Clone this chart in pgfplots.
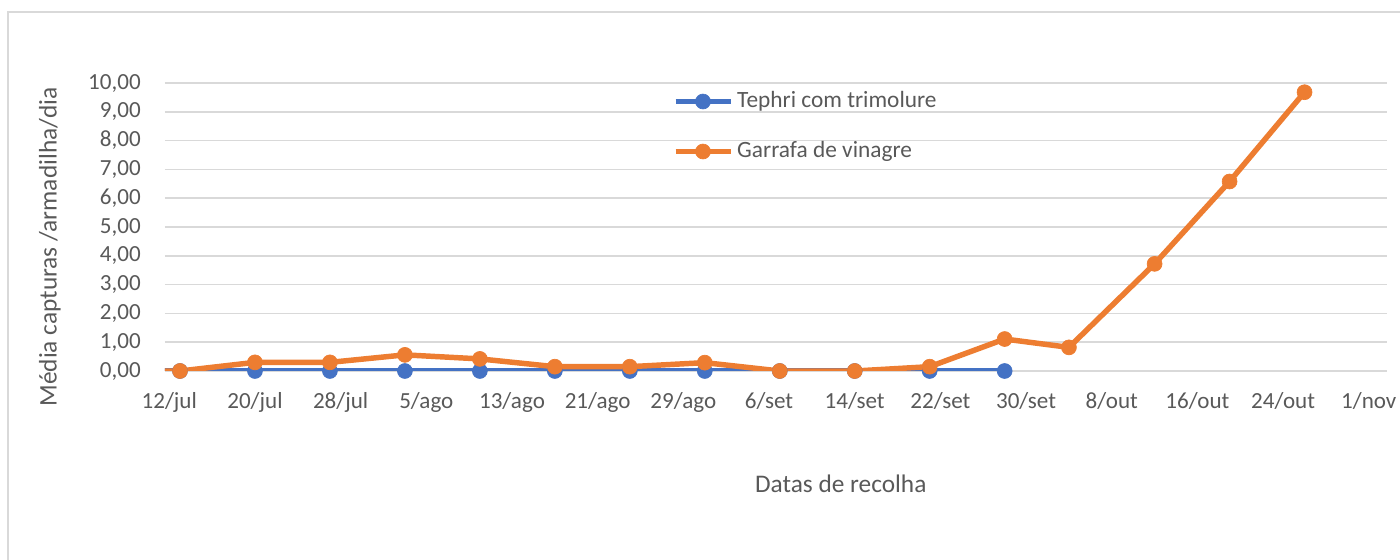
\documentclass[border=0pt]{standalone}
\usepackage{pgfplots}
\pgfplotsset{compat=1.18}
\usepackage{fontspec}
\setmainfont{Carlito}
\definecolor{tblue}{HTML}{4472C4}
\definecolor{torange}{HTML}{ED7D31}
\definecolor{tgray}{HTML}{595959}
\definecolor{gridgray}{HTML}{D9D9D9}
\begin{document}
\begin{tikzpicture}[x=1pt,y=1pt]
\useasboundingbox (0,0) rectangle (1050,420);
\draw[gridgray, line width=1pt] (6,-20) -- (6,411) -- (1070,411);
\begin{axis}[
  at={(123.75pt,141.75pt)}, anchor=south west,
  scale only axis, width=916.5pt, height=216pt,
  xmin=-0.4, xmax=113.7, ymin=0, ymax=10,
  axis line style={draw=none}, tick style={draw=none}, major tick length=0pt,
  ytick={0,1,...,10}, ymajorgrids, grid style={gridgray, line width=1.1pt},
  xtick={0,8,...,112},
  xticklabels={12/jul,20/jul,28/jul,5/ago,13/ago,21/ago,29/ago,6/set,14/set,22/set,30/set,8/out,16/out,24/out,1/nov},
  /pgf/number format/assume math mode=true,
  yticklabel style={/pgf/number format/fixed, /pgf/number format/fixed zerofill, /pgf/number format/precision=2, /pgf/number format/use comma},
  tick label style={font=\fontsize{17.3}{20}\selectfont, text=tgray},
  yticklabel style={inner sep=0pt, xshift=-18pt},
  xticklabel style={inner sep=0pt, yshift=-16pt},
  xlabel={Datas de recolha},
  xlabel style={at={(rel axis cs:0.553,-0.392)}, anchor=center, font=\fontsize{19}{22}\selectfont, text=tgray},
  ylabel={Média capturas /armadilha/dia},
  ylabel style={at={(rel axis cs:-0.0943,0.4306)}, anchor=center, font=\fontsize{19}{22}\selectfont, text=tgray},
  legend style={at={(rel axis cs:0.4153,0.976)}, anchor=north west, draw=none, fill=none,
    inner sep=0pt, row sep=20.5pt, column sep=3pt,
    nodes={inner sep=0pt, text height=13pt, text depth=4pt, text=tgray, font=\fontsize{17.5}{20}\selectfont}},
  legend cell align=left,
  legend image code/.code={\draw[mark indices={2}] plot coordinates {(0pt,0pt) (20.6pt,0pt) (41.25pt,0pt)};},
]
\addplot[color=tblue, line width=4.1pt, mark=*, mark size=5.6pt, mark options={solid, fill=tblue, draw=tblue, line width=0.5pt},
  mark indices={1,2,3,4,5,6,7,8,9,10,11,12}]
  coordinates {(-7,0) (1,0) (8,0) (15,0) (22,0) (29,0) (36,0) (43,0) (50,0) (57,0) (64,0) (71,0) (78,0)};
\addlegendentry{Tephri com trimolure}
\addplot[color=torange, line width=4.1pt, mark=*, mark size=5.6pt, mark options={solid, fill=torange, draw=torange, line width=0.5pt},
  mark indices={1,2,3,4,5,6,7,8,9,10,11,12,13,14,15,16}]
  coordinates {(-7,0) (1,0) (8,0.30) (15,0.30) (22,0.56) (29,0.42) (36,0.15) (43,0.15) (50,0.29) (57,0) (64,0) (71,0.15) (78,1.11) (84,0.82) (92,3.72) (99,6.58) (106,9.68)};
\addlegendentry{Garrafa de vinagre}
\end{axis}
\end{tikzpicture}
\end{document}
